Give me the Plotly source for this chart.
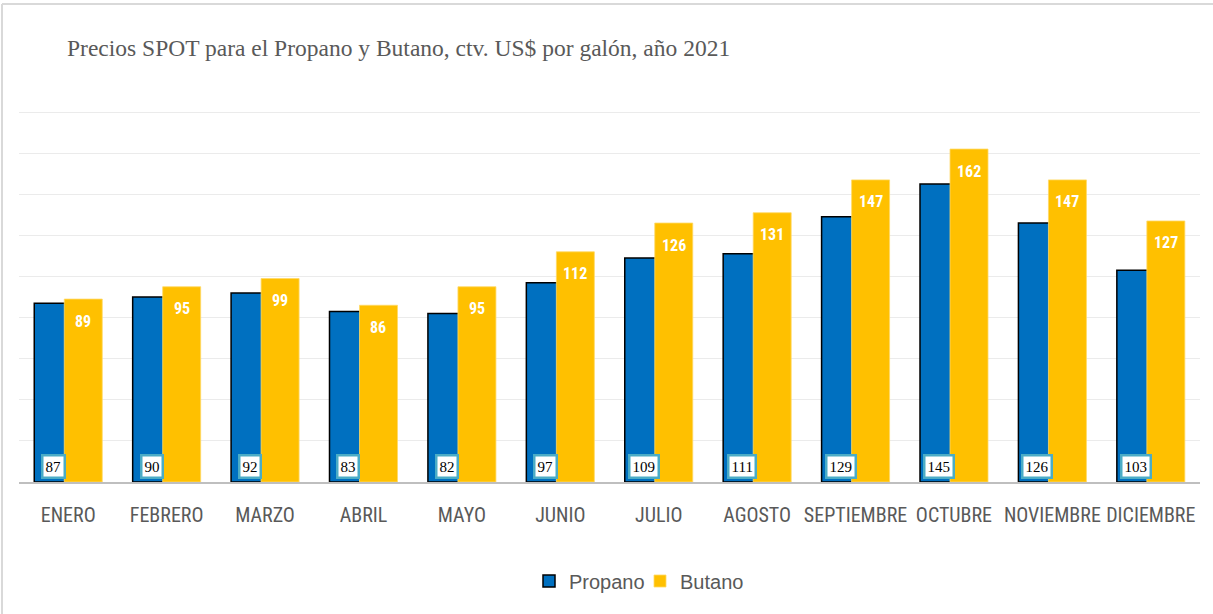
import plotly.graph_objects as go

# Spot prices, US cents per gallon, 2021
meses = ["ENERO", "FEBRERO", "MARZO", "ABRIL", "MAYO", "JUNIO", "JULIO",
         "AGOSTO", "SEPTIEMBRE", "OCTUBRE", "NOVIEMBRE", "DICIEMBRE"]
propano = [87, 90, 92, 83, 82, 97, 109, 111, 129, 145, 126, 103]
butano = [89, 95, 99, 86, 95, 112, 126, 131, 147, 162, 147, 127]

AZUL = "#0070C0"
AMARILLO = "#FFC000"
GRIS_TEXTO = "#595959"
NARROW = "Liberation Sans Narrow, Roboto Condensed, Arial Narrow, sans-serif"

W, H = 1213, 614
ML, MR, MT, MB = 19, 13, 110, 132
YMAX = 181

fig = go.Figure()
fig.add_trace(go.Bar(
    name="Propano", x=meses, y=propano,
    width=0.386, offset=-0.345,
    marker=dict(color=AZUL, line=dict(color="#000000", width=1.5)),
    hoverinfo="x+y",
))
fig.add_trace(go.Bar(
    name="Butano", x=meses, y=butano,
    width=0.386, offset=-0.04,
    marker=dict(color=AMARILLO, line=dict(color="#FFD966", width=0.8)),
    hoverinfo="x+y",
))

anns = []
for m, p, b in zip(meses, propano, butano):
    # white value label near the top of each Butano bar
    anns.append(dict(
        x=m, y=b, xref="x", yref="y", text=f"<b>{b}</b>", showarrow=False,
        xshift=15, yshift=-22, yanchor="middle",
        font=dict(family=NARROW, size=16, color="#FFFFFF"),
    ))
    # boxed value label at the foot of each Propano bar
    anns.append(dict(
        x=m, y=0, xref="x", yref="y", text=str(p), showarrow=False,
        xshift=-15, yshift=16, yanchor="middle",
        bgcolor="#FFFFFF", bordercolor="#4BACC6", borderwidth=2.5, borderpad=2,
        font=dict(family="Liberation Serif, Times New Roman, serif", size=15, color="#000000"),
    ))

pw = W - ML - MR
ph = H - MT - MB
# thin frame along the top and left edges of the chart area
fig.add_shape(type="line", xref="paper", yref="paper",
              x0=(2 - ML) / pw, x1=(W - ML) / pw,
              y0=(H - MB - 4) / ph, y1=(H - MB - 4) / ph,
              line=dict(color="#D9D9D9", width=2))
fig.add_shape(type="line", xref="paper", yref="paper",
              x0=(2 - ML) / pw, x1=(2 - ML) / pw,
              y0=(H - MB - 4) / ph, y1=-MB / ph,
              line=dict(color="#D9D9D9", width=2))

fig.update_layout(
    width=W, height=H,
    margin=dict(l=ML, r=MR, t=MT, b=MB, pad=0),
    paper_bgcolor="#FFFFFF", plot_bgcolor="#FFFFFF",
    barmode="overlay",
    title=dict(
        text="Precios SPOT para el Propano y Butano, ctv. US$ por galón, año 2021",
        x=67 / W, xanchor="left", xref="container",
        y=1 - 48 / H, yanchor="middle", yref="container",
        font=dict(family="Liberation Serif, Times New Roman, serif", size=23.5, color=GRIS_TEXTO),
    ),
    xaxis=dict(
        type="category", range=[-0.5, 11.5],
        showgrid=False, zeroline=False,
        showline=True, linecolor="#BFBFBF", linewidth=2,
        ticks="", tickangle=0, ticklabelstandoff=14,
        tickfont=dict(family=NARROW, size=20, color=GRIS_TEXTO),
    ),
    yaxis=dict(
        range=[0, YMAX], dtick=20, showticklabels=False,
        showgrid=True, gridcolor="#EBEBEB", gridwidth=1,
        zeroline=False, showline=False, ticks="",
    ),
    legend=dict(
        orientation="h", xref="container", yref="container",
        x=640 / W, xanchor="center", y=1 - 581 / H, yanchor="middle",
        font=dict(family="Liberation Sans, Arial, sans-serif", size=20, color=GRIS_TEXTO),
        itemwidth=30, traceorder="normal",
        entrywidth=66, entrywidthmode="pixels",
    ),
    annotations=anns,
    showlegend=True,
)

fig.write_html("out.html")
